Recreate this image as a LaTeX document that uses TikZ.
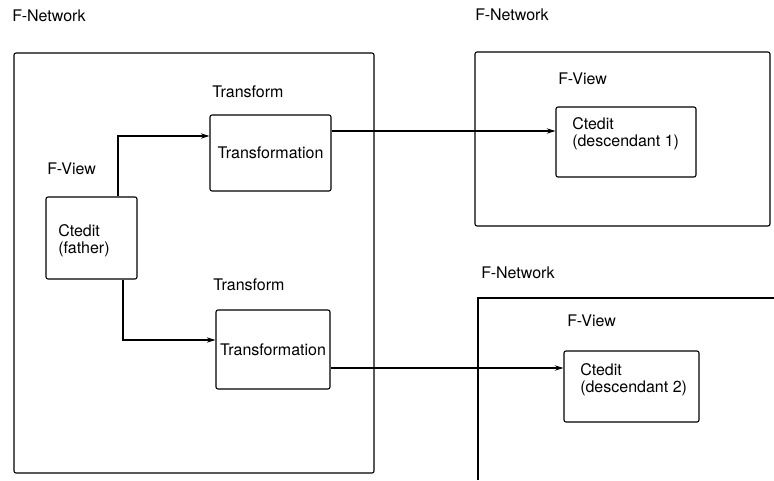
\documentclass[tikz,border=0pt]{standalone}
\usepackage{fontspec}
\setmainfont{TeX Gyre Heros}
\usetikzlibrary{arrows.meta,calc}
\begin{document}
\begin{tikzpicture}[x=0.75pt,y=-0.75pt,
  frame/.style={draw=black, line width=0.8pt, rounded corners=1.5pt, inner sep=0pt},
  lbl/.style={anchor=west, inner sep=0pt, font=\fontsize{12}{14}\selectfont},
  txt/.style={anchor=north west, inner sep=0pt, align=left, font=\fontsize{12}{12.75}\selectfont},
  intxt/.style={font=\fontsize{12}{14}\selectfont},
  conn/.style={draw=black, line width=0.8pt, -{Stealth[length=6.5pt,width=4pt]}}
]
\useasboundingbox (0,0) rectangle (774,480);

% left network
\node[lbl] (netAl) at (12,16) {F-Network};
\node[frame, minimum width=270pt, minimum height=315pt] (netA) at (194,263) {};
\node[lbl] (tfAl) at (212,92) {Transform};
\node[frame, intxt, minimum width=90.75pt, minimum height=57pt] (tfA) at (270.5,153) {Transformation};
\node[lbl] (fvA) at (47,169) {F-View};
\node[frame, minimum width=68.25pt, minimum height=61.5pt] (father) at (91.5,238) {};
\node[txt] (fathert) at (58,224) {Ctedit\\(father)};
\node[lbl] (tfBl) at (213,285) {Transform};
\node[frame, intxt, minimum width=85.5pt, minimum height=59.25pt] (tfB) at (273,349.5) {Transformation};

% top right network
\node[lbl] (netBl) at (475,15) {F-Network};
\node[frame, minimum width=221.25pt, minimum height=130.5pt] (netB) at (622.5,139) {};
\node[lbl] (fvB) at (558,79) {F-View};
\node[frame, minimum width=105pt, minimum height=52.5pt] (d1) at (626,142) {};
\node[txt] (d1t) at (572,117) {Ctedit\\(descendant 1)};

% bottom right network
\node[lbl] (netCl) at (481,273) {F-Network};
\coordinate (netCa) at (478,480);
\coordinate (netCb) at (478,298);
\coordinate (netCc) at (774,298);
\draw[line width=0.8pt] (netCa) -- (netCb) -- (netCc);
\node[lbl] (fvC) at (567,321) {F-View};
\node[frame, minimum width=101.25pt, minimum height=53.25pt] (d2) at (631.5,386.5) {};
\node[txt] (d2t) at (580,363) {Ctedit\\(descendant 2)};

% connectors
\coordinate (xa) at (118,0);
\coordinate (ya) at (0,136);
\coordinate (xb) at (123,0);
\coordinate (yb) at (0,340);
\coordinate (yc) at (0,131);
\coordinate (yd) at (0,368);
\draw[conn] (father.north -| xa) |- (tfA.west |- ya);
\draw[conn] (tfA.east |- yc) -- (d1.west |- yc);
\draw[conn] (father.south -| xb) |- (tfB.west |- yb);
\draw[conn] (tfB.east |- yd) -- (d2.west |- yd);
\end{tikzpicture}
\end{document}
